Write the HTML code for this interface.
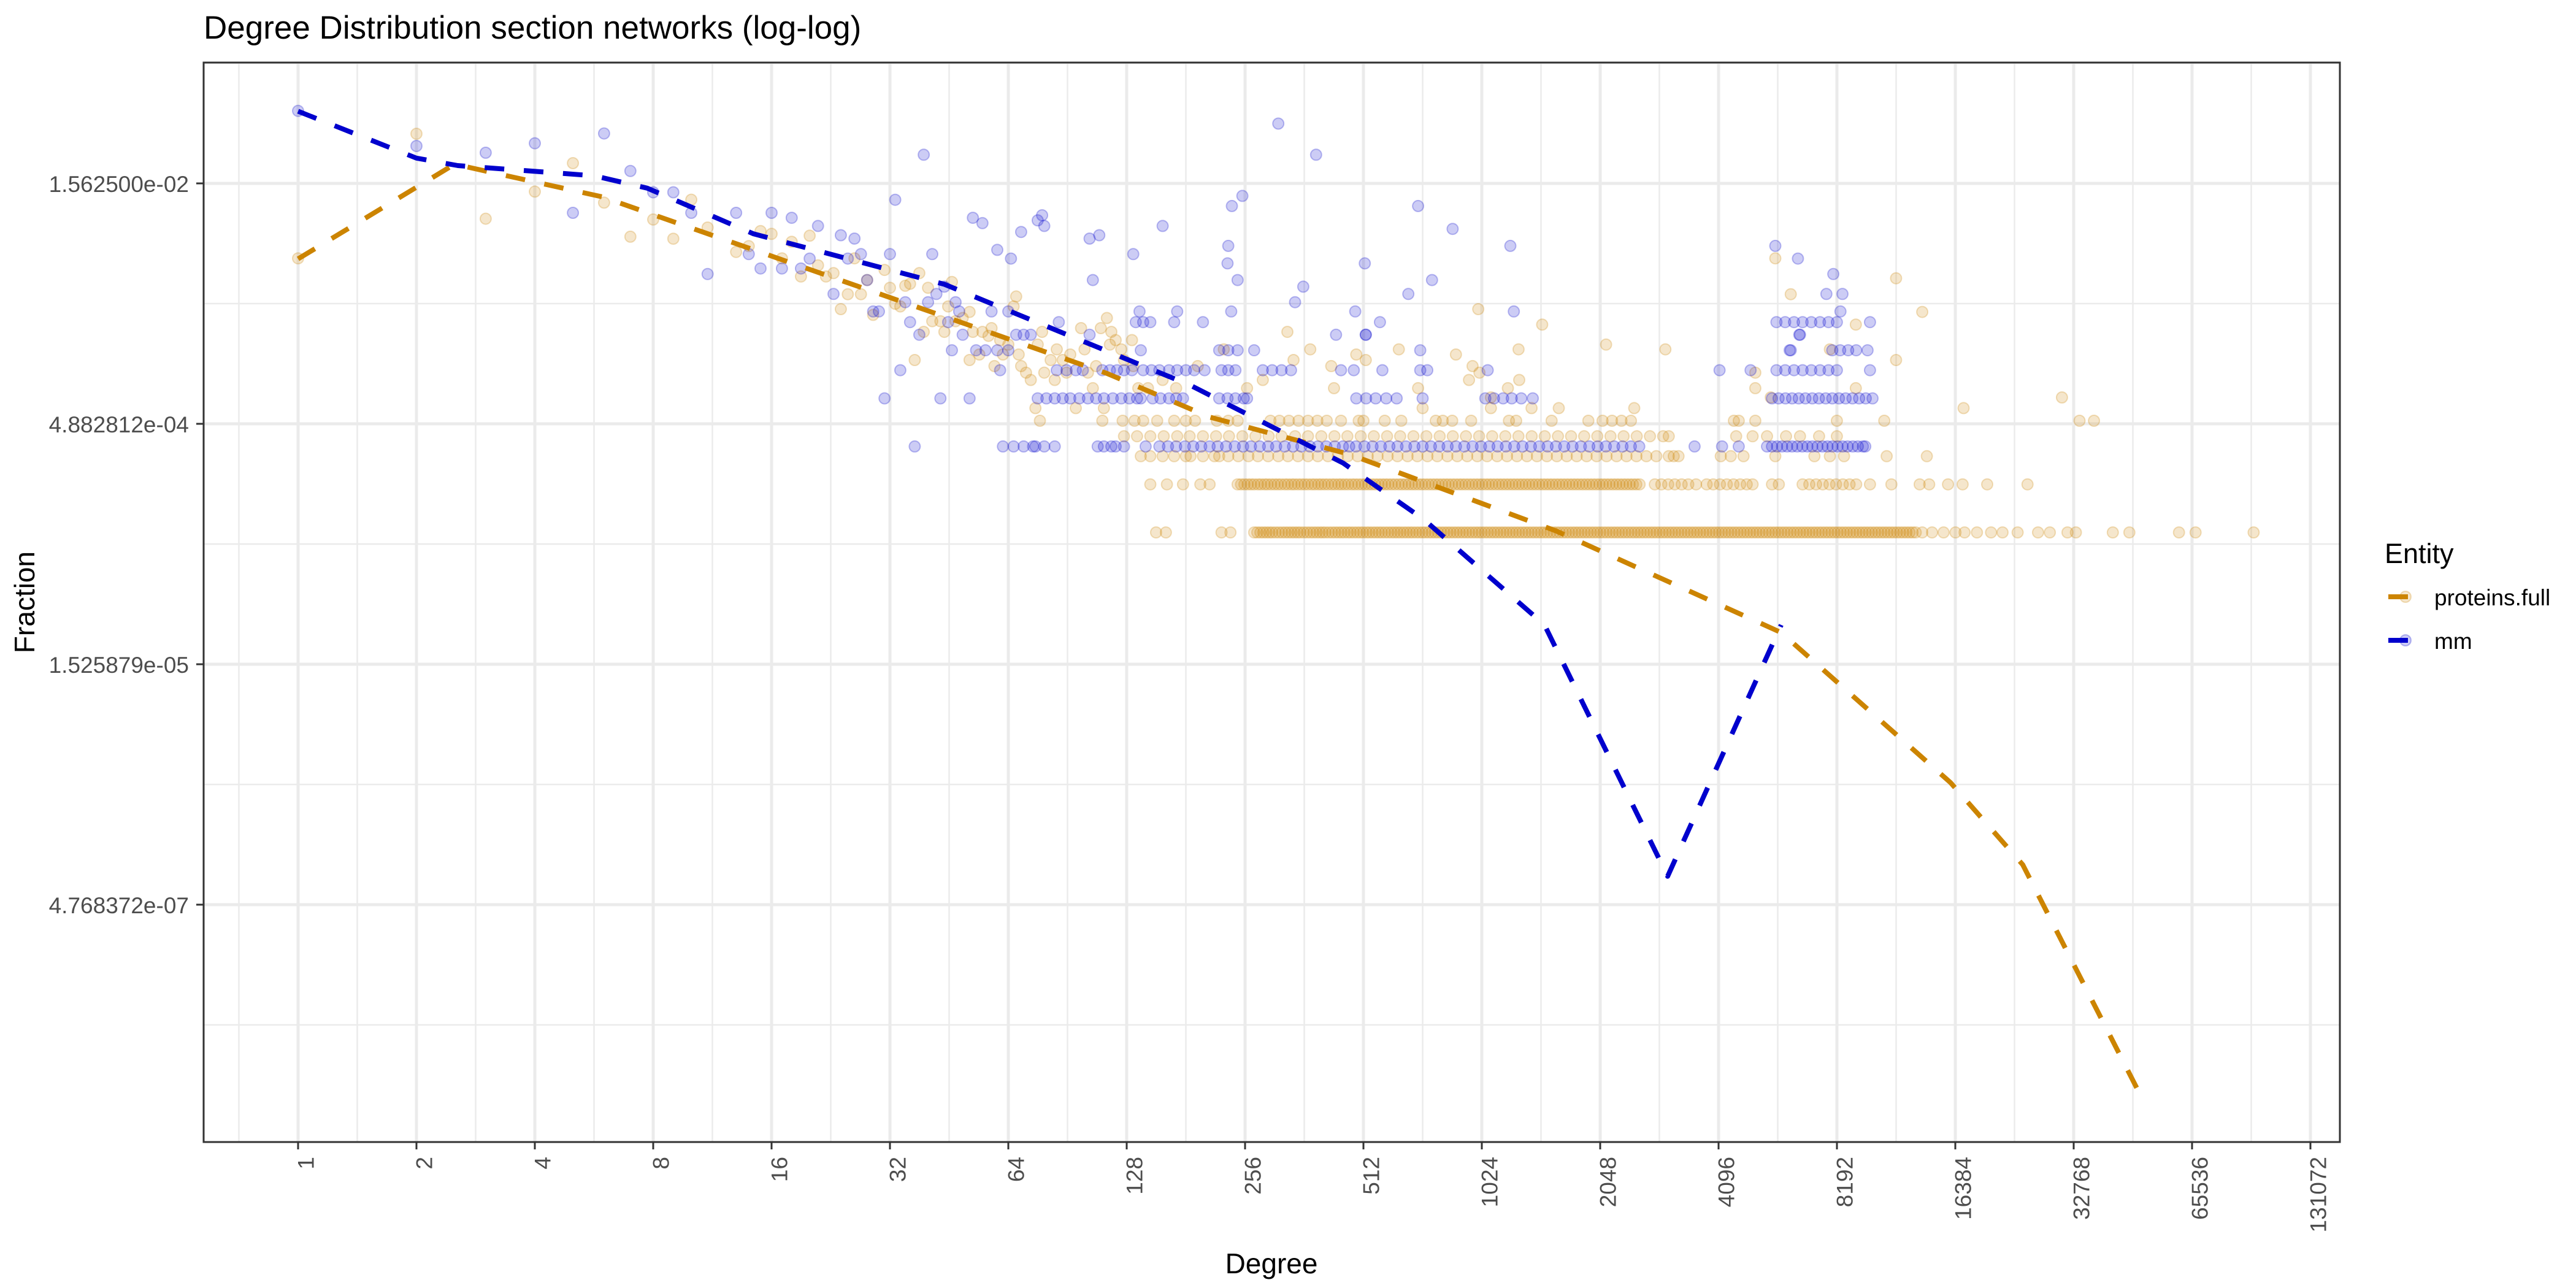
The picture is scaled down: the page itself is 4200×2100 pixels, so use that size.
<!DOCTYPE html>
<html><head><meta charset="utf-8"><style>
html,body{margin:0;padding:0;background:#fff;}
svg{display:block;font-family:"Liberation Sans",Arial,sans-serif;}
</style></head><body>
<svg id="chart" width="4200" height="2100" viewBox="0 0 4200 2100" xmlns="http://www.w3.org/2000/svg">
<rect x="0" y="0" width="4200" height="2100" fill="#fff"/>
<text x="332" y="63" font-size="53" fill="#000">Degree Distribution section networks (log-log)</text>
<g id="grid"></g>
<g id="points"></g>
<g id="lines"></g>
<rect x="332" y="102" width="3483" height="1760" fill="none" stroke="#333" stroke-width="3"/>
<g id="axes"></g>
<text x="2073" y="2076" font-size="46" text-anchor="middle" fill="#000">Degree</text>
<text transform="translate(56,982) rotate(-90)" font-size="46" text-anchor="middle" fill="#000">Fraction</text>
<g>
<text x="3888" y="918" font-size="45" fill="#000">Entity</text>
<g>
<circle cx="3922" cy="973" r="9" fill="rgba(204,132,0,0.2)" stroke="rgba(204,132,0,0.25)" stroke-width="2"/>
<line x1="3894" y1="973" x2="3926" y2="973" stroke="#CC8400" stroke-width="8"/>
<text x="3969" y="987" font-size="37" fill="#000">proteins.full</text>
</g>
<g>
<circle cx="3922" cy="1044" r="9" fill="rgba(0,0,205,0.2)" stroke="rgba(0,0,205,0.25)" stroke-width="2"/>
<line x1="3894" y1="1044" x2="3926" y2="1044" stroke="#0000CD" stroke-width="8"/>
<text x="3969" y="1058" font-size="37" fill="#000">mm</text>
</g>
</g>
</svg>
<script>
// ---- data ----
const xTickLabels = ["1","2","4","8","16","32","64","128","256","512","1024","2048","4096","8192","16384","32768","65536","131072"];
const xTickValues = [1,2,4,8,16,32,64,128,256,512,1024,2048,4096,8192,16384,32768,65536,131072];
const yTickLabels = ["1.562500e-02","4.882812e-04","1.525879e-05","4.768372e-07"];
const yTickValues = [0.015625,0.00048828125,0.0000152587890625,4.76837158203125e-7];

const protTotal = 9800;
const mmTotal = 2837;

const protLineDeg = [1,2.5,5.94,114,208,471,1585,5910,15930,24320,47650];
const protLineFrac = [0.00526,0.0206,0.01286,0.00101,0.000538,0.000315,0.000104,0.0000241,0.00000277,0.000000848,0.0000000331];
const mmLineDeg = [1,2,2.55,5.66,7.73,14.4,44,186,455,729,1478,3040,5910];
const mmLineFrac = [0.0442,0.0225,0.0202,0.01743,0.01458,0.00755,0.00365,0.00085,0.000277,0.000123,0.0000269,0.000000718,0.0000269];

const protDeg1 = [152,161,223,235,270,280,290,300,312,324,336,348,361,375,389,403,418,434,450,467,484,502,521,540,560,581,603,625,648,672,697,723,750,778,807,837,868,900,934,969,1005,1042,1081,1121,1163,1206,1251,1298,1346,1396,1448,1502,1558,1616,1676,1739,1803,1870,1940,2012,2087,2165,2245,2329,2416,2506,2599,2696,2796,2900,3008,3120,3236,3357,3482,3611,3746,3885,4030,4180,4336,4497,4665,4838,5019,5205,5400,5600,5810,6025,6250,6483,6725,6975,7235,7505,7785,8075,8376,8688,9012,9348,9696,10058,10432,10821,11224,11643,12077,12527,12994,13500,14300,15300,16400,17300,18600,20200,21600,23600,26600,28500,31600,33200,41200,45400,60700,66900,94000];
const protDeg1b = [275,285,295,306,318,330,342,354,368,382,396,410,426,442,458,475,493,511,530,550,570,592,614,636,660,684,710,736,764,792,822,852,884,917,951,987,1023,1061,1101,1142,1184,1228,1274,1322,1371,1422,1475,1530,1587,1646,1707,1771,1836,1905,1976,2049,2126,2205,2287,2372,2461,2552,2647,2746,2848,2954,3064,3178,3296,3419,3546,3678,3815,3957,4105,4258,4416,4580,4751,4928,5112,5302,5500,5705,5917,6137,6366,6604,6850,7105,7370,7645,7930,8225,8532,8850,9180,9522,9877,10245,10627,11022,11433,11860,12300,12760];
const protDeg2 = [147,162,178,197,208,245,255,265,276,287,298,310,323,336,349,363,378,393,408,425,442,459,478,497,517,537,559,581,604,629,654,680,707,735,765,795,827,860,895,930,968,1006,1047,1088,1132,1177,1224,1273,1324,1377,1432,1490,1549,1611,1676,1743,1812,1885,1960,2039,2120,2205,2293,2385,2480,2580,2820,2930,3050,3170,3300,3430,3590,3820,3970,4130,4300,4470,4650,4830,5000,5600,5830,6700,6970,7250,7540,7840,8150,8480,8820,9170,9940,11270,13300,14060,15700,17100,19750,25000];
const protDeg2b = [250,260,270,281,292,304,316,329,342,356,370,385,400,416,433,450,468,487,507,527,548,570,592,616,641,667,693,721,750,780,811,843,877,912,949,987,1026,1067,1110,1154,1200,1248,1298,1350,1404,1461,1519,1580,1643,1709,1777,1848,1922,1999,2079,2162,2249,2339,2432,2530];
const protDeg3 = [139,147,158,169,181,186,200,214,220,232,246,261,276,293,311,329,349,370,392,416,441,467,495,525,556,590,625,663,702,745,789,837,887,940,997,1056,1120,1187,1258,1334,1414,1499,1589,1684,1785,1892,2006,2126,2254,2389,2532,2684,2845,3060,3150,3240,4150,4400,4740,5710,7180,7860,8540,10960,13870];
const protDeg4 = [126,136,147,159,172,185,200,216,233,252,272,294,317,343,370,400,432,466,504,544,588,635,686,740,800,864,933,1008,1088,1175,1269,1371,1480,1599,1727,1865,2014,2175,2349,2537,2740,2960,3060,4540,5000,5440,6080,6600,7380,8190];
const protDeg5 = [111,125,134,141,153,169,181,191,217,232,245,297,313,331,350,370,391,413,449,498,512,580,639,782,815,861,962,1200,1252,1541,1911,2076,2195,2320,2452,4480,4610,5080,8190,10810,33900,36900];
const protCloudDeg = [1,2,3,4,5,6,7,8,9,10,11,13,14,15,16,17,18,19,20,21,22,23,24,25,26,27,28,29,31,32,33,34,35,36,37,38,39,40,41,43,44,45,46,47,49,51,51,52,54,55,57,58,59,61,62,64,66,67,68,69,71,73,75,76,77,78,79,82,84,85,88,90,92,95,98,100,102,105,107,110,112,114,116,117,120,124,126,132,133,137,145,158,171,194,226,259,284,328,340,375,424,431,491,519,630,705,724,880,950,970,1003,1010,1080,1080,1193,1270,1275,1370,1458,1607,2120,2500,3000,5080,5080,5560,5710,6250,7860,9150,9150,11580,11580,13500,17200,30600];
const protCloudCount = [52,313,92,136,205,116,71,91,69,121,81,57,62,77,74,52,66,40,72,47,40,42,25,31,52,31,38,23,44,34,27,26,35,36,12,42,18,34,21,21,18,26,37,21,22,24,12,18,13,18,17,19,11,16,13,15,26,30,13,11,10,9,6,15,5,18,10,12,9,14,12,10,13,6,19,14,10,8,11,19,6,22,15,18,16,14,12,16,11,8,8,9,8,11,14,8,9,18,12,14,11,8,13,12,14,8,6,13,9,11,25,10,7,6,8,14,9,6,20,6,15,6,14,10,8,7,52,31,14,20,8,39,12,24,6,7];

const mmDeg1 = [37,62,66,70,74,75,79,84,108,112,117,120,126,143,155,163,171,180,189,198,208,218,229,241,253,265,279,293,307,323,339,356,374,392,412,433,454,471,490,515,540,567,596,625,657,690,724,760,798,838,880,924,970,1019,1070,1123,1179,1238,1300,1365,1433,1505,1580,1659,1742,1829,1921,2017,2117,2223,2334,2451,2574,3560,4180,4610,5440,5600,5770,5940,6120,6300,6490,6690,6890,7090,7310,7530,7750,7980,8220,8470,8720,8990,9260,9540,9670];
const mmDeg2 = [31,43,51,76,80,84,88,92,97,102,107,112,118,124,130,136,139,149,156,164,171,178,220,231,242,254,259,491,520,550,585,622,724,1045,1100,1160,1220,1290,1380,5600,5820,6060,6300,6550,6810,7090,7370,7670,7970,8290,8620,8970,9330,9700,10090];
const mmDeg3 = [34,61,85,90,95,99,111,116,121,126,132,141,148,155,164,172,181,190,202,223,232,242,284,300,317,335,449,484,572,714,744,1060,4120,4940,5750,6050,6370,6700,7050,7420,7800,8190,9940];
const mmDeg4 = [46,53,56,60,64,139,220,232,245,270,714,6250,7970,8350,8750,9170,9800];
const mmDeg5 = [38,49,67,70,73,436,519,6600];
const mmDeg6 = [36,45,86,135,141,147,169,200,564,5750,6050,6370,6700,7050,7420,7800,8190,9940];
const mmCloudDeg = [1,2,3,4,5,6,7,8,9,10,11,13,14,15,16,17,18,19,20,21,23,24,25,26,27,28,29,30,32,33,35,39,40,41,42,44,47,48,52,55,58,60,64,65,69,76,78,79,103,103,105,109,133,138,158,172,231,232,237,245,252,236,311,343,360,388,516,488,519,705,666,765,863,1210,1235,5710,6520,8020,7700,8460,8360,6570,6210];
const mmCloudCount = [126,76,69,79,29,91,53,39,39,29,12,29,16,13,29,13,27,13,15,24,9,21,15,20,16,11,7,7,16,35,8,67,8,16,9,10,8,7,27,25,7,17,7,15,22,26,28,24,5,20,11,21,16,7,24,7,14,18,32,11,37,7,105,8,10,67,14,7,5,32,9,11,23,18,7,18,15,12,9,9,7,5,4];

// ---- scales ----
const X0 = 486, XS = 193, Y0 = 299, YS = 78.4;
function xs(d){ return X0 + XS*Math.log2(d); }
function ys(f){ return Y0 - YS*(Math.log2(f)+6); }
const NS = "http://www.w3.org/2000/svg";
function mk(tag, attrs, parent){ const e=document.createElementNS(NS,tag); for(const k in attrs) e.setAttribute(k,attrs[k]); parent.appendChild(e); return e; }

const grid = document.getElementById('grid');
const L=332,R=3815,T=102,B=1862;
for(let i=-0.5;i<=17.5;i+=1){ const x=X0+XS*i; if(x<L||x>R) continue;
  const g=mk('line',{x1:x,x2:x,y1:T,y2:B,stroke:'#EBEBEB','stroke-width':2.5},grid);
  
   }
for(let e=-3.5;e>=-26;e-=5){ const y=Y0-YS*(e+6); if(y<=T||y>=B) continue;
  const g=mk('line',{x1:L,x2:R,y1:y,y2:y,stroke:'#EBEBEB','stroke-width':2.5},grid);
  
   }
xTickValues.forEach(v=>{ const x=xs(v);
  const g=mk('line',{x1:x,x2:x,y1:T,y2:B,stroke:'#EBEBEB','stroke-width':5},grid);
  
   });
yTickValues.forEach(v=>{ const y=ys(v);
  const g=mk('line',{x1:L,x2:R,y1:y,y2:y,stroke:'#EBEBEB','stroke-width':5},grid);
  
   });

// ---- points ----
const pts = document.getElementById('points');
function dot(d,f,col,name){
  const c=mk('circle',{cx:xs(d).toFixed(1),cy:ys(f).toFixed(1),r:9,fill:col,'fill-opacity':0.2,stroke:col,'stroke-opacity':0.25,'stroke-width':2},pts);
  
  
}
const OR='#CC8400', BL='#0000CD';
[[protDeg1,1],[protDeg1b,1],[protDeg2,2],[protDeg2b,2],[protDeg3,3],[protDeg4,4],[protDeg5,5]].forEach(([arr,c])=>arr.forEach(d=>dot(d,c/protTotal,OR,'proteins-point')));
protCloudDeg.forEach((d,i)=>dot(d,protCloudCount[i]/protTotal,OR,'proteins-point'));
[[mmDeg1,1],[mmDeg2,2],[mmDeg3,3],[mmDeg4,4],[mmDeg5,5],[mmDeg6,6]].forEach(([arr,c])=>arr.forEach(d=>dot(d,c/mmTotal,BL,'mm-point')));
mmCloudDeg.forEach((d,i)=>dot(d,mmCloudCount[i]/mmTotal,BL,'mm-point'));

// ---- lines ----
const lines=document.getElementById('lines');
function path(ds,fs,col,name){
  const p=ds.map((d,i)=>(i?'L':'M')+xs(d).toFixed(1)+','+ys(fs[i]).toFixed(1)).join(' ');
  const e=mk('path',{d:p,fill:'none',stroke:col,'stroke-width':8,'stroke-dasharray':'32 32','stroke-linejoin':'round'},lines);
  
  
}
path(protLineDeg,protLineFrac,OR,'proteins-full-line');
path(mmLineDeg,mmLineFrac,BL,'mm-line');

// ---- axes ----
const axes=document.getElementById('axes');
xTickValues.forEach((v,i)=>{ const x=xs(v);
  const t=mk('line',{x1:x,x2:x,y1:B,y2:B+12,stroke:'#333','stroke-width':3},axes);
  
  
  const tx=mk('text',{transform:`translate(${x+13},${B+24}) rotate(-90)`,'font-size':37,fill:'#4D4D4D','text-anchor':'end','dominant-baseline':'central'},axes);
  tx.textContent=xTickLabels[i];
  
   });
yTickValues.forEach((v,i)=>{ const y=ys(v);
  const t=mk('line',{x1:L-12,x2:L,y1:y,y2:y,stroke:'#333','stroke-width':3},axes);
  
  
  const tx=mk('text',{x:308,y:y+14,'font-size':37,fill:'#4D4D4D','text-anchor':'end'},axes);
  tx.textContent=yTickLabels[i];
  
   });
</script>
</body></html>
